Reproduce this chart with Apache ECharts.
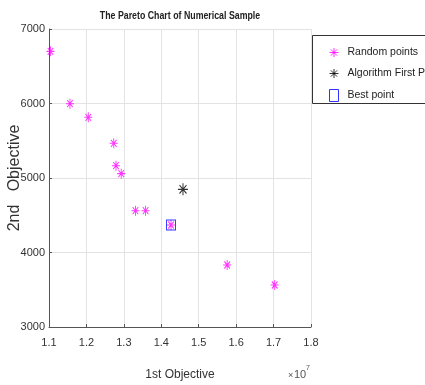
<!DOCTYPE html>
<html><head><meta charset="utf-8">
<script src="https://cdn.jsdelivr.net/npm/echarts@6/dist/echarts.min.js"></script>
<style>html,body{margin:0;padding:0;background:#fff}#c{width:425px;height:385px}</style>
</head><body><div id="c"></div>
<script>
const randomX = [1.104, 1.156, 1.205, 1.273, 1.279, 1.293, 1.331, 1.358, 1.426, 1.576, 1.703];
const randomY = [6700, 5997, 5815, 5466, 5165, 5058, 4561, 4561, 4369, 3832, 3564];
const firstX = [1.458];
const firstY = [4848];
const bestX = [1.426];
const bestY = [4369];
const xTicks = [1.1, 1.2, 1.3, 1.4, 1.5, 1.6, 1.7, 1.8];
const yTicks = [3000, 4000, 5000, 6000, 7000];

const F = '"Liberation Sans", Arial, sans-serif';
const star = 'path://M0,-5 L0,5 M-5,0 L5,0 M-3.5,-3.5 L3.5,3.5 M-3.5,3.5 L3.5,-3.5';
const zip = (a, b) => a.map((v, i) => [v, b[i]]);

const chart = echarts.init(document.getElementById('c'), null, {renderer: 'canvas'});
chart.setOption({
  animation: false,
  backgroundColor: '#fff',
  grid: {left: 49, right: 114, top: 29, bottom: 58, containLabel: false, outerBoundsMode: 'none'},
  xAxis: {
    type: 'value', min: 1.1, max: 1.8, interval: 0.1,
    name: '1st Objective', nameLocation: 'middle', nameGap: 42, nameMoveOverlap: false,
    nameTextStyle: {fontFamily: F, fontSize: 12, color: '#333'},
    axisLine: {show: true, lineStyle: {color: '#555'}},
    axisTick: {show: true, inside: true, length: 3, lineStyle: {color: '#555'}},
    axisLabel: {fontFamily: F, fontSize: 11, color: '#333', margin: 10,
      formatter: v => v.toFixed(1)},
    splitLine: {show: true, lineStyle: {color: '#e3e3e3'}}
  },
  yAxis: {
    type: 'value', min: 3000, max: 7000, interval: 1000,
    name: '2nd   Objective', nameLocation: 'middle', nameGap: 26, nameMoveOverlap: false,
    nameTextStyle: {fontFamily: F, fontSize: 16, color: '#333'},
    axisLine: {show: true, lineStyle: {color: '#555'}},
    axisTick: {show: true, inside: true, length: 3, lineStyle: {color: '#555'}},
    axisLabel: {fontFamily: F, fontSize: 11, color: '#333', margin: 4,
      formatter: v => String(v)},
    splitLine: {show: true, lineStyle: {color: '#e3e3e3'}}
  },
  legend: {
    orient: 'vertical', left: 324, top: 42, itemGap: 10, itemWidth: 9, itemHeight: 12,
    textStyle: {fontFamily: F, fontSize: 10.5, color: '#222', padding: [0, 0, 0, 4]},
    data: [
      {name: 'Random points', icon: star, itemStyle: {borderWidth: 1}},
      {name: 'Algorithm First Point', icon: star, itemStyle: {borderWidth: 1}},
      {name: 'Best point', icon: 'rect', itemStyle: {borderWidth: 1}}
    ]
  },
  graphic: [
    {type: 'text', x: 180, y: 16, scaleX: 0.8, z: 10,
     style: {text: 'The Pareto Chart of Numerical Sample', fontFamily: F, fontSize: 11,
       fontWeight: 'bold', fill: '#222', align: 'center', verticalAlign: 'middle'}},
    {type: 'rect', shape: {x: 312.5, y: 35.5, width: 130, height: 68},
     style: {fill: 'none', stroke: '#333', lineWidth: 1}, z: 1},
    {type: 'text', x: 288, y: 371,
     style: {text: '×', fontFamily: F, fontSize: 9, fill: '#555'}},
    {type: 'text', x: 294, y: 369,
     style: {text: '10', fontFamily: F, fontSize: 11, fill: '#555'}},
    {type: 'text', x: 306, y: 365,
     style: {text: '7', fontFamily: F, fontSize: 7, fill: '#555'}}
  ],
  series: [
    {name: 'Random points', type: 'scatter', data: zip(randomX, randomY),
     symbol: star, symbolSize: [8, 10], z: 3,
     itemStyle: {color: 'rgba(0,0,0,0)', borderColor: '#ff00ff', borderWidth: 1}},
    {name: 'Algorithm First Point', type: 'scatter', data: zip(firstX, firstY),
     symbol: star, symbolSize: [10, 12], z: 3,
     itemStyle: {color: 'rgba(0,0,0,0)', borderColor: '#000', borderWidth: 1.1}},
    {name: 'Best point', type: 'scatter', data: zip(bestX, bestY),
     symbol: 'rect', symbolSize: [9, 10], z: 4,
     itemStyle: {color: 'rgba(0,0,0,0)', borderColor: '#0000ff', borderWidth: 1}}
  ]
});
</script></body></html>
